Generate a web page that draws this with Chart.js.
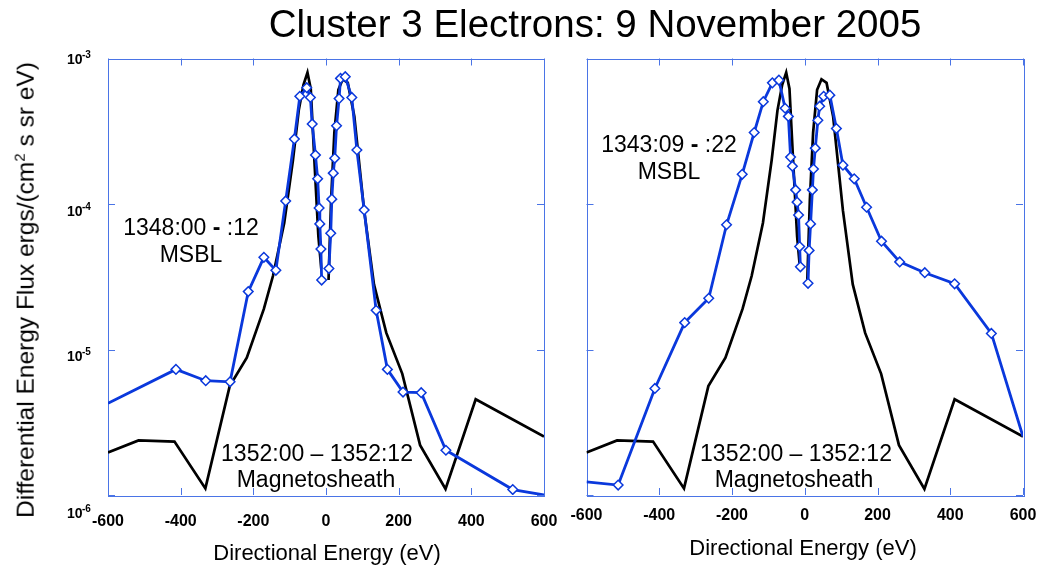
<!DOCTYPE html>
<html>
<head>
<meta charset="utf-8">
<script src="https://cdn.jsdelivr.net/npm/chart.js@4.4.1/dist/chart.umd.min.js"></script>
<style>
body { margin: 0; background: #fff; width: 1051px; height: 569px; position: relative; overflow: hidden; font-family: Arial, "Liberation Sans", sans-serif; }
canvas { position: absolute; top: 0; }
.txt { position: absolute; white-space: nowrap; line-height: 1; color: #000; }
.c { transform: translateX(-50%); }
#ytitle { position: absolute; left: 25px; top: 290px; font-size: 24.5px; line-height: 1; white-space: nowrap; transform: translate(-50%, -50%) rotate(-90deg); }
#ytitle sup { font-size: 15px; }
</style>
</head>
<body>
<canvas id="leftChart" style="left:0" width="560" height="569"></canvas>
<canvas id="rightChart" style="left:560px" width="491" height="569"></canvas>

<div class="txt c" style="left:595px; top:5px; font-size:38.5px;">Cluster 3 Electrons: 9 November 2005</div>
<div id="ytitle">Differential Energy Flux ergs/(cm<sup>2</sup> s sr eV)</div>
<div class="txt c" style="left:327px; top:542px; font-size:22px;">Directional Energy (eV)</div>
<div class="txt c" style="left:803px; top:537px; font-size:22px;">Directional Energy (eV)</div>

<div class="txt c" style="left:191px; top:216px; font-size:23px;">1348:00 <b>-</b> :12</div>
<div class="txt c" style="left:191px; top:243px; font-size:23px;">MSBL</div>
<div class="txt c" style="left:317px; top:442px; font-size:23px;">1352:00 – 1352:12</div>
<div class="txt c" style="left:316px; top:468px; font-size:23px;">Magnetosheath</div>

<div class="txt c" style="left:669px; top:133px; font-size:23px;">1343:09 <b>-</b> :22</div>
<div class="txt c" style="left:669px; top:160px; font-size:23px;">MSBL</div>
<div class="txt c" style="left:796px; top:442px; font-size:23px;">1352:00 – 1352:12</div>
<div class="txt c" style="left:794px; top:468px; font-size:23px;">Magnetosheath</div>

<script>
// axis ticks
const xTicks = [-600, -400, -200, 0, 200, 400, 600];
const yDecades = [-6, -5, -4, -3];

// 1352:00 - 1352:12 magnetosheath (same curve in both panels), null = gap at 0 eV
const sheathEnergy = [-600, -516, -417, -332, -265, -218, -171, -146, -115, -91, -75, -62, -51, -42, -32, -21, -13,
  0, 7, 14, 23, 34, 46, 60, 78, 105, 132, 166, 210, 259, 329, 412, 600];
const sheathFlux = [1.96e-6, 2.37e-6, 2.33e-6, 1.11e-6, 5.6e-6, 8.8e-6, 1.9e-5, 3.2e-5, 7.4e-5, 2.0e-4, 4.4e-4, 6.6e-4, 8.0e-4, 6.2e-4, 2.0e-4, 6.0e-5, 3.6e-5,
  null, 3.0e-5, 1.06e-4, 3.1e-4, 6.1e-4, 7.2e-4, 6.8e-4, 4.0e-4, 9.0e-5, 2.8e-5, 1.3e-5, 6.8e-6, 2.2e-6, 1.1e-6, 4.55e-6, 2.52e-6];

// 1348:00 - :12 MSBL
const msblAEnergy = [-600, -413, -331, -264, -214, -171, -138, -111, -87, -72, -53, -43, -38, -29, -23, -19, -17, -14, -12,
  0, 8, 13, 16, 20, 24, 29, 36, 40, 53, 71, 85, 105, 138, 169, 212, 262, 330, 514, 600];
const msblAFlux = [4.27e-6, 7.3e-6, 6.1e-6, 6.0e-6, 2.5e-5, 4.3e-5, 3.5e-5, 1.05e-4, 2.8e-4, 5.5e-4, 6.3e-4, 5.4e-4, 3.55e-4, 2.17e-4, 1.49e-4, 9.4e-5, 7.3e-5, 4.9e-5, 3.0e-5,
  null, 3.6e-5, 6.3e-5, 1.08e-4, 1.63e-4, 2.06e-4, 3.45e-4, 5.3e-4, 7.3e-4, 7.5e-4, 5.4e-4, 2.35e-4, 9.1e-5, 1.86e-5, 7.3e-6, 5.1e-6, 5.05e-6, 2.03e-6, 1.09e-6, 1.0e-6];

// 1343:09 - :22 MSBL
const msblBEnergy = [-600, -513, -412, -330, -264, -215, -172, -139, -114, -89, -71, -54, -45, -39, -34, -25, -21, -17, -14, -12,
  0, 9, 12, 16, 21, 24, 29, 36, 41, 52, 69, 87, 105, 136, 170, 211, 261, 330, 412, 513, 600];
const msblBFlux = [1.23e-6, 1.17e-6, 5.4e-6, 1.53e-5, 2.25e-5, 7.2e-5, 1.6e-4, 3.1e-4, 5.05e-4, 6.8e-4, 7.1e-4, 4.55e-4, 4.0e-4, 2.1e-4, 1.82e-4, 1.25e-4, 1.03e-4, 8.4e-5, 5.1e-5, 3.7e-5,
  null, 2.85e-5, 4.8e-5, 7.3e-5, 1.25e-4, 1.74e-4, 2.42e-4, 3.76e-4, 4.7e-4, 5.5e-4, 5.6e-4, 3.3e-4, 1.85e-4, 1.49e-4, 9.5e-5, 5.55e-5, 4.0e-5, 3.37e-5, 2.83e-5, 1.29e-5, 2.52e-6];

const BLUE = '#0a38dc';
const FRAME = '#4a74e6';

function pts(xs, ys) {
  return xs.map((x, i) => ({ x: x, y: ys[i] }));
}

// frame box, inward tick marks and 10^n labels
const framePlugin = {
  id: 'frame',
  beforeDatasetsDraw(chart, args, opts) {
    const { ctx, chartArea: a, scales: { x, y } } = chart;
    ctx.save();
    ctx.strokeStyle = FRAME;
    ctx.lineWidth = 1;
    ctx.strokeRect(Math.round(a.left) + 0.5, Math.round(a.top) + 0.5, Math.round(a.right - a.left), Math.round(a.bottom - a.top));
    ctx.beginPath();
    xTicks.forEach(v => {
      const px = Math.round(x.getPixelForValue(v)) + 0.5;
      ctx.moveTo(px, a.bottom); ctx.lineTo(px, a.bottom - 7);
      ctx.moveTo(px, a.top); ctx.lineTo(px, a.top + 7);
    });
    yDecades.forEach(d => {
      const py = Math.round(y.getPixelForValue(Math.pow(10, d))) + 0.5;
      ctx.moveTo(a.left, py); ctx.lineTo(a.left + 7, py);
      ctx.moveTo(a.right, py); ctx.lineTo(a.right - 7, py);
    });
    ctx.stroke();

    if (opts.yLabels) {
      ctx.fillStyle = '#000';
      yDecades.forEach((d, i) => {
        const py = y.getPixelForValue(Math.pow(10, d)) + opts.nudge[i];
        ctx.font = 'bold 14px Arial, "Liberation Sans", sans-serif';
        ctx.textAlign = 'left';
        ctx.textBaseline = 'alphabetic';
        ctx.fillText('10', a.left - 41, py + 5);
        ctx.font = 'bold 10px Arial, "Liberation Sans", sans-serif';
        ctx.fillText(String(d), a.left - 26, py - 1);
      });
    }
    ctx.restore();
  }
};

function makePanel(id, blueX, blueY, yWidth, rightPad, labelPad, showYLabels) {
  const lastBlue = blueX.length - 1;
  new Chart(document.getElementById(id), {
    type: 'line',
    data: {
      datasets: [{
        data: pts(blueX, blueY),
        borderColor: BLUE,
        borderWidth: 2.8,
        pointStyle: 'rectRot',
        pointRadius: c => (c.dataIndex === 0 || c.dataIndex === lastBlue) ? 0 : 4.8,
        pointBackgroundColor: '#fff',
        pointBorderColor: BLUE,
        pointBorderWidth: 1.5,
        spanGaps: false,
        tension: 0
      }, {
        data: pts(sheathEnergy, sheathFlux),
        borderColor: '#000',
        borderWidth: 2.7,
        pointRadius: 0,
        spanGaps: false,
        tension: 0
      }]
    },
    options: {
      responsive: false,
      animation: false,
      devicePixelRatio: 1,
      layout: { padding: { top: 58.5, left: 0, right: rightPad, bottom: 34 } },
      plugins: {
        legend: { display: false },
        tooltip: { enabled: false },
        frame: { yLabels: showYLabels, nudge: [18, 6, 7, 0] }
      },
      scales: {
        x: {
          type: 'linear', min: -600, max: 600,
          grid: { display: false, drawTicks: false },
          border: { display: false },
          afterBuildTicks: s => { s.ticks = xTicks.map(v => ({ value: v })); },
          ticks: {
            padding: labelPad, color: '#000', maxRotation: 0, autoSkip: false,
            font: { family: 'Arial, "Liberation Sans", sans-serif', weight: 'bold', size: 16 },
            callback: v => String(v)
          },
          afterFit: s => { s.height = 40; s.paddingLeft = 0; s.paddingRight = 0; }
        },
        y: {
          type: 'logarithmic', min: 1e-6, max: 1e-3,
          grid: { display: false, drawTicks: false },
          border: { display: false },
          ticks: { display: false },
          afterFit: s => { s.width = yWidth; s.paddingTop = 0; s.paddingBottom = 0; }
        }
      }
    },
    plugins: [framePlugin]
  });
}

makePanel('leftChart', msblAEnergy, msblAFlux, 108, 16, 17, true);
makePanel('rightChart', msblBEnergy, msblBFlux, 26.5, 28, 11, false);
</script>
</body>
</html>
